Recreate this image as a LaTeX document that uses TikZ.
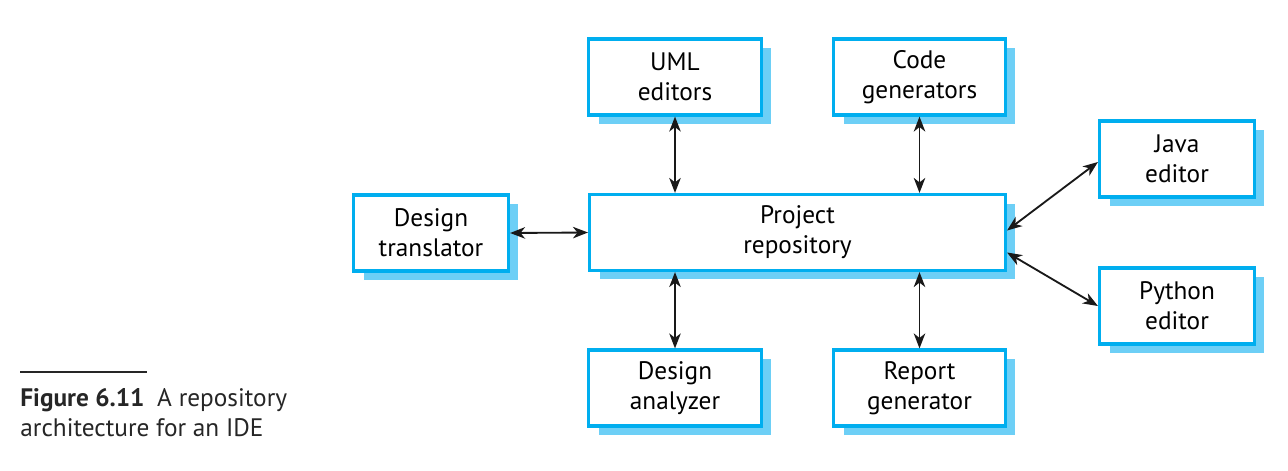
\documentclass[tikz,border=0pt]{standalone}
\usepackage{fontspec}
\setmainfont{PT Sans}
\usepackage{xcolor}
\usepackage{tikz}
\usetikzlibrary{arrows.meta,shadows,positioning}
\definecolor{boxcyan}{HTML}{00AEEF}
\definecolor{shadowcyan}{HTML}{6DCFF6}

\begin{document}
\begin{tikzpicture}[x=0.02cm,y=-0.02cm,
    font=\fontsize{14.4}{17.2}\selectfont,
    toolbox/.style={draw=boxcyan, line width=1.8pt, fill=white, align=center,
      minimum height=1.52cm, inner sep=2pt,
      drop shadow={shadow xshift=0.2cm, shadow yshift=-0.18cm, fill=shadowcyan, opacity=1}},
    link/.style={{Stealth[length=3mm,width=2.3mm,inset=0.9mm]}-{Stealth[length=3mm,width=2.3mm,inset=0.9mm]}, line width=1.05pt, black!90}]
        \useasboundingbox (0,0) rectangle (1288,470);

        % Tools round the repository
        \node[toolbox, minimum width=3.46cm] (uml) at (675,77) {UML\\editors};
        \node[toolbox, minimum width=3.44cm] (codegen) at (919.5,77) {Code\\generators};
        \node[toolbox, minimum width=3.1cm] (java) at (1177,159) {Java\\editor};
        \node[toolbox, minimum width=3.1cm] (trans) at (431,233) {Design\\translator};
        \node[toolbox, minimum width=8.32cm] (repo) at (797.5,232.5) {Project\\repository};
        \node[toolbox, minimum width=3.1cm] (python) at (1177,306) {Python\\editor};
        \node[toolbox, minimum width=3.46cm] (analyzer) at (675,388) {Design\\analyzer};
        \node[toolbox, minimum width=3.44cm] (report) at (919.5,388) {Report\\generator};

        % Links
        \draw[link] (uml.south) -- (uml.south |- repo.north);
        \draw[link] (codegen.south) -- (codegen.south |- repo.north);
        \draw[link] (analyzer.north) -- (analyzer.north |- repo.south);
        \draw[link] (report.north) -- (report.north |- repo.south);
        \draw[link] (trans.east) -- (repo.west);
        \draw[link] ([yshift=0.04cm]repo.east) -- ([yshift=-0.06cm]java.west);
        \draw[link] ([yshift=-0.4cm]repo.east) -- (python.west);

        % Caption
        \coordinate (rulestart) at (20,372);
        \coordinate (ruleend) at (147,372);
        \draw[line width=0.8pt, black!85] (rulestart) -- (ruleend);
        \node[anchor=north west, align=left, inner sep=0pt, text=black!85] (caption) at (20,388)
          {\textbf{Figure 6.11}\enspace A repository\\architecture for an IDE};
    \end{tikzpicture}
\end{document}
